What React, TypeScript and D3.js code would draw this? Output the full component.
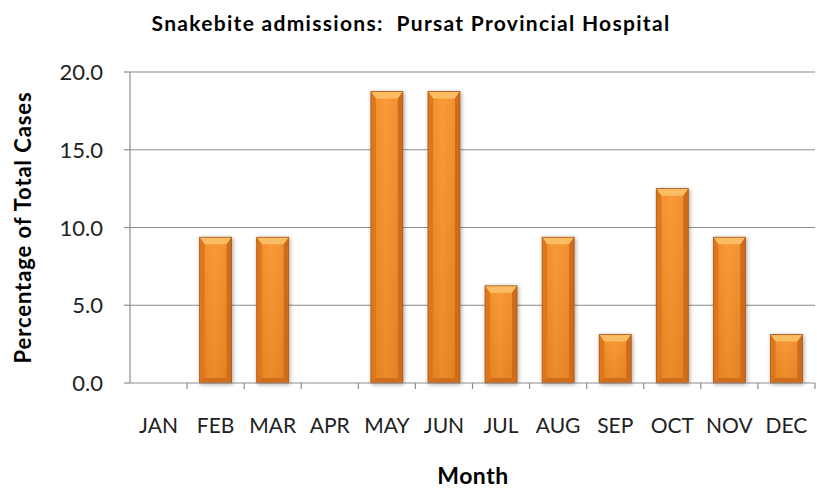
import { useMemo } from "react";
import { scaleBand, scaleLinear } from "d3";

const WIDTH = 817;
const HEIGHT = 488;
const MARGIN = { top: 72, right: 2, bottom: 105, left: 130 };

const months = ["JAN", "FEB", "MAR", "APR", "MAY", "JUN", "JUL", "AUG", "SEP", "OCT", "NOV", "DEC"];
const percentages = [0, 9.375, 9.375, 0, 18.75, 18.75, 6.25, 9.375, 3.125, 12.5, 9.375, 3.125];
const yTicks = [0, 5, 10, 15, 20];

const FONT = "Lato, 'Open Sans', sans-serif";

export default function App() {
  const x = useMemo(
    () => scaleBand<string>().domain(months).range([MARGIN.left, WIDTH - MARGIN.right]).paddingInner(0.44).paddingOuter(0.22),
    []
  );
  const y = useMemo(() => scaleLinear().domain([0, 20]).range([HEIGHT - MARGIN.bottom, MARGIN.top]), []);
  const step = (WIDTH - MARGIN.right - MARGIN.left) / months.length;
  const base = y(0);

  return (
    <svg width={WIDTH} height={HEIGHT} style={{ position: "absolute", left: 0, top: 0, background: "#fff" }}>
      <defs>
        <linearGradient id="face" x1="0" x2="1" y1="0" y2="0">
          <stop offset="0%" stopColor="#ee8420" />
          <stop offset="45%" stopColor="#f8952c" />
          <stop offset="100%" stopColor="#ef8522" />
        </linearGradient>
        <linearGradient id="faceV" x1="0" x2="0" y1="0" y2="1">
          <stop offset="0%" stopColor="#ffffff" stopOpacity="0.06" />
          <stop offset="100%" stopColor="#000000" stopOpacity="0.06" />
        </linearGradient>
        <filter id="shadow" x="-30%" y="-10%" width="160%" height="120%">
          <feGaussianBlur in="SourceAlpha" stdDeviation="2" />
          <feOffset dx="1" dy="1" result="b" />
          <feComponentTransfer>
            <feFuncA type="linear" slope="0.35" />
          </feComponentTransfer>
          <feMerge>
            <feMergeNode />
            <feMergeNode in="SourceGraphic" />
          </feMerge>
        </filter>
      </defs>

      <text
        x={411}
        y={31}
        textAnchor="middle"
        fontFamily={FONT}
        fontWeight="bold"
        fontSize={21}
        letterSpacing={1.3}
        fill="#000"
        style={{ whiteSpace: "pre" }}
      >
        {"Snakebite admissions:  Pursat Provincial Hospital"}
      </text>

      {yTicks.map((t) => (
        <g key={t}>
          {t > 0 && <line x1={MARGIN.left} x2={WIDTH - MARGIN.right} y1={y(t)} y2={y(t)} stroke="#8c8c8c" strokeWidth={1.2} />}
          <line x1={MARGIN.left - 6} x2={MARGIN.left} y1={y(t)} y2={y(t)} stroke="#8c8c8c" strokeWidth={1.2} />
          <text x={MARGIN.left - 27} y={y(t) + 8} textAnchor="end" fontFamily={FONT} fontSize={22} fill="#222">
            {t.toFixed(1)}
          </text>
        </g>
      ))}

      {months.map((m, i) => {
        const v = percentages[i];
        if (v <= 0) return null;
        const x0 = x(m)!;
        const w = x.bandwidth();
        const top = y(v);
        const b = 5;
        const x1 = x0 + w;
        return (
          <g key={m} filter="url(#shadow)">
            <rect x={x0} y={top} width={w} height={base - top} fill="url(#face)" />
            <rect x={x0} y={top} width={w} height={base - top} fill="url(#faceV)" />
            <polygon points={`${x0},${top} ${x1},${top} ${x1 - b},${top + b + 2} ${x0 + b},${top + b + 2}`} fill="#fbbd63" />
            <polygon points={`${x0},${top} ${x0 + b},${top + b + 2} ${x0 + b},${base - b} ${x0},${base}`} fill="#de761c" />
            <polygon points={`${x1},${top} ${x1 - b},${top + b + 2} ${x1 - b},${base - b} ${x1},${base}`} fill="#cf6c1a" />
            <polygon points={`${x0},${base} ${x0 + b},${base - b} ${x1 - b},${base - b} ${x1},${base}`} fill="#d06e1c" />
            <rect x={x0} y={top} width={w} height={base - top} fill="none" stroke="#a9561a" strokeWidth={0.8} />
          </g>
        );
      })}

      <line x1={MARGIN.left} x2={MARGIN.left} y1={MARGIN.top} y2={base} stroke="#8c8c8c" strokeWidth={1.2} />
      <line x1={MARGIN.left} x2={WIDTH - MARGIN.right} y1={base} y2={base} stroke="#8c8c8c" strokeWidth={1.2} />
      {months.map((m, i) => (
        <line key={m} x1={MARGIN.left + step * (i + 1)} x2={MARGIN.left + step * (i + 1)} y1={base} y2={base + 6} stroke="#8c8c8c" strokeWidth={1.2} />
      ))}

      {months.map((m) => (
        <text key={m} x={x(m)! + x.bandwidth() / 2} y={433} textAnchor="middle" fontFamily={FONT} fontSize={21} fill="#222">
          {m}
        </text>
      ))}

      <text x={473} y={484} textAnchor="middle" fontFamily={FONT} fontWeight="bold" fontSize={23} letterSpacing={0.5} fill="#000">
        Month
      </text>
      <text
        transform={`translate(31, ${(MARGIN.top + base) / 2}) rotate(-90)`}
        textAnchor="middle"
        fontFamily={FONT}
        fontWeight="bold"
        fontSize={22}
        letterSpacing={0.9}
        fill="#000"
      >
        Percentage of Total Cases
      </text>
    </svg>
  );
}
